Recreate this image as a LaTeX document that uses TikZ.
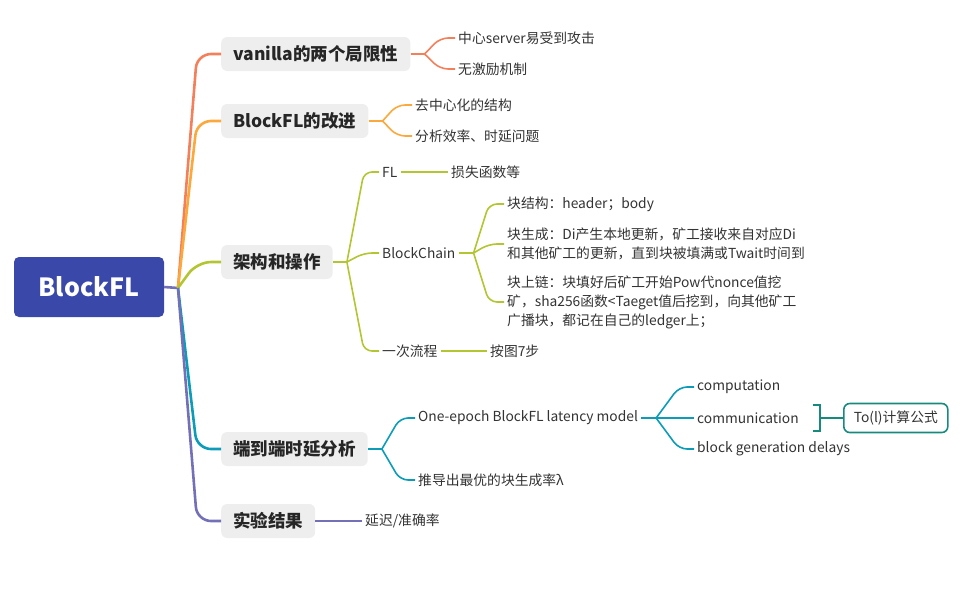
\documentclass[tikz,border=0pt]{standalone}
\usepackage{fontspec}
\setmainfont{Noto Sans CJK SC}
\usetikzlibrary{positioning,calc}

\definecolor{rootblue}{HTML}{3A49A9}
\definecolor{cvan}{HTML}{F47F5B}
\definecolor{cimp}{HTML}{FBA93C}
\definecolor{carch}{HTML}{B3C531}
\definecolor{clat}{HTML}{0C9CB8}
\definecolor{cexp}{HTML}{7370B8}
\definecolor{csum}{HTML}{178A7E}
\definecolor{topicgray}{HTML}{EEEEEE}
\definecolor{txt}{HTML}{333333}

\tikzset{
  root/.style={fill=rootblue, rounded corners=5pt, text=white, minimum width=150pt,
    minimum height=60pt, font=\fontsize{25}{30}\selectfont\bfseries},
  topic/.style={fill=topicgray, rounded corners=6pt, anchor=west, inner xsep=12pt,
    minimum height=34pt, text=black!85, font=\fontsize{17.5}{20}\selectfont\bfseries},
  leaf/.style={anchor=west, inner sep=3pt, text=txt, align=left,
    font=\fontsize{13.8}{19}\selectfont},
  formula/.style={draw=csum, line width=1.6pt, rounded corners=6pt, anchor=west,
    minimum width=104pt, minimum height=29pt, text=txt, font=\fontsize{13.8}{16}\selectfont},
  trunk/.style={line width=2.6pt, rounded corners=14pt},
  twig/.style={line width=1.6pt, rounded corners=8pt},
}

\begin{document}
\begin{tikzpicture}[x=1pt,y=1pt]
    \useasboundingbox (0,0) rectangle (973,-589);

    % central topic
    \node[root] (root) at (89,-287) {BlockFL};
    \coordinate (hub) at (178,-288);

    % main topics
    \node[topic] (n1) at (221,-54) {vanilla的两个局限性};
    \node[topic] (n2) at (221,-121) {BlockFL的改进};
    \node[topic] (n3) at (221,-262) {架构和操作};
    \node[topic] (n4) at (221,-449) {端到端时延分析};
    \node[topic] (n5) at (221,-521) {实验结果};

    \draw[trunk, cexp] (root.east) -- (hub);
    \draw[trunk, cvan] (hub) -- ([xshift=-24pt]n1.west) -- (n1.west);
    \draw[trunk, cimp] (hub) -- ([xshift=-24pt]n2.west) -- (n2.west);
    \draw[trunk, carch] (hub) -- ([xshift=-24pt]n3.west) -- (n3.west);
    \draw[trunk, clat] (hub) -- ([xshift=-24pt]n4.west) -- (n4.west);
    \draw[trunk, cexp] (hub) -- ([xshift=-24pt]n5.west) -- (n5.west);

    % vanilla
    \node[leaf] (s11) at (455,-38) {中心server易受到攻击};
    \node[leaf] (s12) at (455,-69) {无激励机制};
    \draw[twig, cvan] (n1.east) -- ++(14,0) coordinate (j1);
    \draw[twig, cvan] (j1) -- ([xshift=-15pt]s11.west) -- (s11.west);
    \draw[twig, cvan] (j1) -- ([xshift=-15pt]s12.west) -- (s12.west);

    % improvements
    \node[leaf] (s21) at (412,-105) {去中心化的结构};
    \node[leaf] (s22) at (412,-136) {分析效率、时延问题};
    \draw[twig, cimp] (n2.east) -- ++(14,0) coordinate (j2);
    \draw[twig, cimp] (j2) -- ([xshift=-15pt]s21.west) -- (s21.west);
    \draw[twig, cimp] (j2) -- ([xshift=-15pt]s22.west) -- (s22.west);

    % architecture
    \node[leaf] (s31) at (379,-172) {FL};
    \node[leaf] (s32) at (379,-253) {BlockChain};
    \node[leaf] (s33) at (379,-351) {一次流程};
    \draw[twig, carch] (n3.east) -- ++(14,0) coordinate (j3);
    \draw[twig, carch] (j3) -- ([xshift=-15pt]s31.west) -- (s31.west);
    \draw[twig, carch] (j3) -- ([xshift=-15pt]s32.west) -- (s32.west);
    \draw[twig, carch] (j3) -- ([xshift=-15pt]s33.west) -- (s33.west);

    \node[leaf] (s311) at (448,-172) {损失函数等};
    \draw[twig, carch] (s31.east) -- (s311.west);

    \node[leaf] (s321) at (504,-204) {块结构：header；body};
    \node[leaf] (s322) at (504,-244) {块生成：Di产生本地更新，矿工接收来自对应Di\\和其他矿工的更新，直到块被填满或Twait时间到};
    \node[leaf] (s323) at (504,-302) {块上链：块填好后矿工开始Pow代nonce值挖\\矿，sha256函数<Taeget值后挖到，向其他矿工\\广播块，都记在自己的ledger上；};
    \draw[twig, carch] (s32.east) -- ++(15,0) coordinate (j32);
    \draw[twig, carch] (j32) -- ([xshift=-15pt]s321.west) -- (s321.west);
    \draw[twig, carch] (j32) -- ([xshift=-15pt]s322.west) -- (s322.west);
    \draw[twig, carch] (j32) -- ([xshift=-15pt]s323.west) -- (s323.west);

    \node[leaf] (s331) at (487,-351) {按图7步};
    \draw[twig, carch] (s33.east) -- (s331.west);

    % latency
    \node[leaf] (s41) at (415,-418) {One-epoch BlockFL latency model};
    \node[leaf] (s42) at (415,-480) {推导出最优的块生成率λ};
    \draw[twig, clat] (n4.east) -- ++(14,0) coordinate (j4);
    \draw[twig, clat] (j4) -- ([xshift=-15pt]s41.west) -- (s41.west);
    \draw[twig, clat] (j4) -- ([xshift=-15pt]s42.west) -- (s42.west);

    \node[leaf] (s411) at (694,-387) {computation};
    \node[leaf] (s412) at (694,-418) {communication};
    \node[leaf] (s413) at (694,-449) {block generation delays};
    \draw[twig, clat] (s41.east) -- ++(15,0) coordinate (j41);
    \draw[twig, clat] (j41) -- ([xshift=-15pt]s411.west) -- (s411.west);
    \draw[twig, clat] (j41) -- (s412.west);
    \draw[twig, clat] (j41) -- ([xshift=-15pt]s413.west) -- (s413.west);

    % summary of communication
    \node[formula] (f1) at (843,-418) {To(l)计算公式};
    \draw[csum, line width=1.6pt] ([xshift=11pt,yshift=13pt]s412.east) -- ++(7,0)
        -- ++(0,-26) -- ++(-7,0);
    \draw[csum, line width=1.6pt] ([xshift=18pt]s412.east) -- (f1.west);

    % experiments
    \node[leaf] (s51) at (362,-521) {延迟/准确率};
    \draw[twig, cexp] (n5.east) -- (s51.west);
\end{tikzpicture}
\end{document}
